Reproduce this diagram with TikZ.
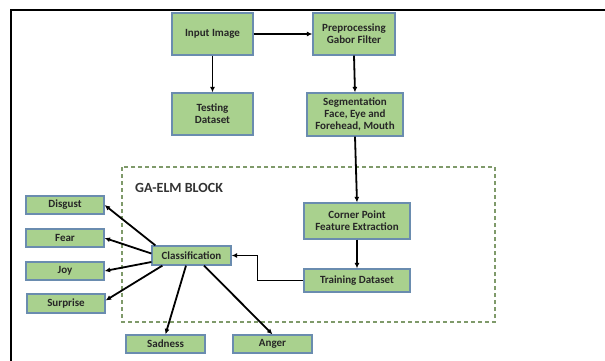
\documentclass[tikz,border=0pt]{standalone}
\usepackage{fontspec}
\setmainfont{Carlito}
\usetikzlibrary{arrows.meta,calc}
\definecolor{boxfill}{HTML}{A9D18E}
\definecolor{boxline}{HTML}{6A8CAF}
\definecolor{dashline}{HTML}{7F9A6A}
\tikzset{
  gbox/.style={draw=boxline, line width=1.2pt, fill=boxfill, inner sep=1pt, align=center,
    font=\fontsize{11}{12.2}\selectfont\bfseries, text=black!85},
  arr/.style={line width=1.8pt, -{Latex[length=5.5pt,width=5pt]}},
}
\begin{document}
\begin{tikzpicture}[x=1pt,y=-1pt]
\useasboundingbox (0,0) rectangle (605,361);
\fill[white] (0,0) rectangle (605,361);
% frame
\draw[line width=2.2pt] (11,361) -- (11,10) -- (605,10);
% dashed block
\draw[dashline, line width=1.3pt, dash pattern=on 4pt off 3pt] (122,167) rectangle (495,322);
\node[anchor=west, inner sep=0pt, font=\fontsize{14}{16}\selectfont\bfseries, text=black!80] (ga) at (135,188) {GA-ELM BLOCK};
% nodes
\node[gbox, minimum width=81pt, minimum height=42pt] (inp) at (212.5,34) {Input Image};
\node[gbox, minimum width=82pt, minimum height=42pt] (pre) at (354,34) {Preprocessing\\Gabor Filter};
\node[gbox, minimum width=81pt, minimum height=42pt] (tst) at (212.5,114) {Testing\\Dataset};
\node[gbox, minimum width=96pt, minimum height=43pt] (seg) at (355,114.5) {Segmentation\\Face, Eye and\\Forehead, Mouth};
\node[gbox, minimum width=106pt, minimum height=36pt] (cor) at (357,221) {Corner Point\\Feature Extraction};
\node[gbox, minimum width=106pt, minimum height=23pt] (trn) at (357,280.5) {Training Dataset};
\node[gbox, minimum width=79pt, minimum height=19pt] (cls) at (191.5,255.5) {Classification};
\node[gbox, minimum width=78pt, minimum height=18pt] (dis) at (65,205) {Disgust};
\node[gbox, minimum width=78pt, minimum height=18pt] (fea) at (65,238) {Fear};
\node[gbox, minimum width=78pt, minimum height=18pt] (joy) at (65,271) {Joy};
\node[gbox, minimum width=78pt, minimum height=19pt] (sur) at (66,303.5) {Surprise};
\node[gbox, minimum width=79pt, minimum height=18pt] (sad) at (165.5,344) {Sadness};
\node[gbox, minimum width=79pt, minimum height=18pt] (ang) at (272.5,344) {Anger};
% connectors
\draw[arr] (inp.east) -- (pre.west);
\draw[arr] (inp.south) -- (tst.north);
\draw[arr] (pre.south) -- (seg.north);
\draw[arr] (seg.south) -- (cor.north);
\draw[arr] (cor.south) -- (trn.north);
\draw[arr] (trn.west) -- ++(-46,0) |- (cls.east);
\draw[arr] ($(cls.north west)+(4,0)$) -- (dis.east);
\draw[arr] ($(cls.west)+(0,-2)$) -- (fea.east);
\draw[arr] ($(cls.west)+(0,6.5)$) -- (joy.east);
\draw[arr] ($(cls.south west)+(11,0)$) -- ($(sur.east)+(0,-3)$);
\draw[arr] ($(cls.south)+(-5.5,0)$) -- (sad.north);
\draw[arr] ($(cls.south)+(12.5,0)$) -- (ang.north);
\end{tikzpicture}
\end{document}
